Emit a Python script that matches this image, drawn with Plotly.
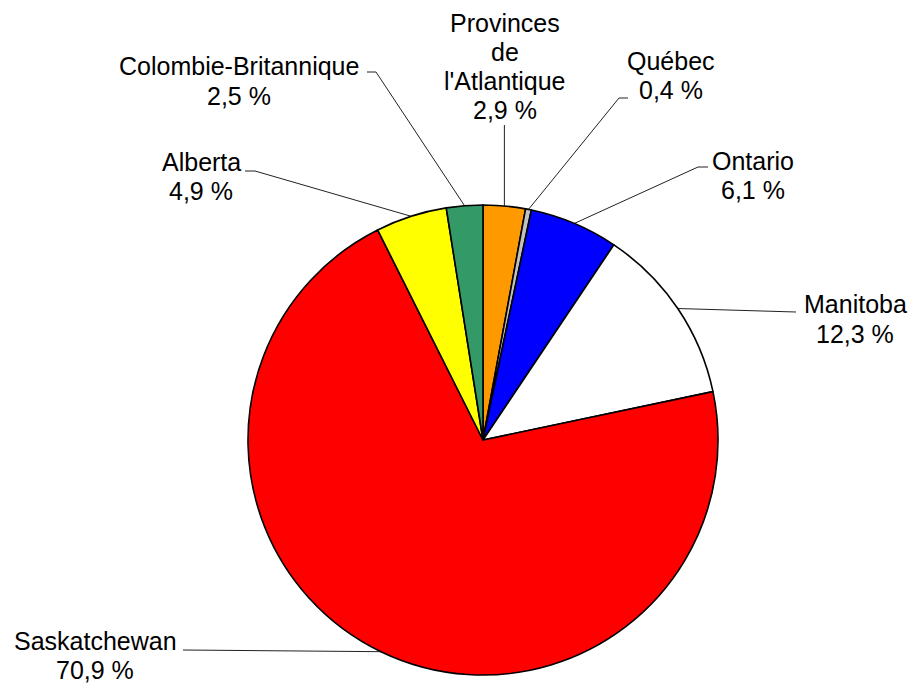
import math
import plotly.graph_objects as go

# ---- data ----
names = ["Provinces de l'Atlantique", "Québec", "Ontario", "Manitoba",
         "Saskatchewan", "Alberta", "Colombie-Britannique"]
name_lines = [["Provinces", "de", "l'Atlantique"], ["Québec"], ["Ontario"], ["Manitoba"],
              ["Saskatchewan"], ["Alberta"], ["Colombie-Britannique"]]
values = [2.9, 0.4, 6.1, 12.3, 70.9, 4.9, 2.5]
colors = ["#FF9900", "#C0C0C0", "#0000FF", "#FFFFFF", "#FF0000", "#FFFF00", "#339966"]

# ---- layout (pixel geometry) ----
W, H = 911, 683
CX, CY, R = 483, 440, 235
# label block: centre x, first-line y, line pitch
label_pos = [(505, 23, 29), (671, 61, 29), (753, 161, 28.5), (855, 304, 30),
             (95, 641, 28.5), (201, 162, 28.5), (239, 65.5, 30.5)]
# leader line start points (near label), list of points before the slice edge
leader_start = [[None], [(628, 98), (619, 98)], [(708, 167), (698, 167)], [(796, 312)],
                [(183, 650)], [(245, 171), (255, 171)], [(367, 72), (376, 72)]]

fig = go.Figure()
fig.add_trace(go.Pie(
    labels=names, values=values, sort=False, direction="clockwise", rotation=0,
    marker=dict(colors=colors, line=dict(color="black", width=1.6)),
    textinfo="none", hoverinfo="label+percent", showlegend=False,
    domain=dict(x=[(CX - R) / W, (CX + R) / W], y=[(H - CY - R) / H, (H - CY + R) / H]),
))

total = sum(values)
cum = 0.0
annotations = []
for i, v in enumerate(values):
    mid = (cum + v / 2) / total * 2 * math.pi
    cum += v
    ex, ey = CX + R * math.sin(mid), CY - R * math.cos(mid)
    pts = leader_start[i]
    if pts[0] is None:
        pts = [(ex, 125)]
    xs = [p[0] for p in pts] + [ex]
    ys = [p[1] for p in pts] + [ey]
    fig.add_trace(go.Scatter(x=xs, y=ys, mode="lines", line=dict(color="#222222", width=1),
                             hoverinfo="skip", showlegend=False))
    lx, ly, pitch = label_pos[i]
    lines = name_lines[i] + [f"{v:.1f}".replace(".", ",") + " %"]
    for k, t in enumerate(lines):
        annotations.append(dict(x=lx, y=ly + k * pitch, xref="x", yref="y", text=t,
                                showarrow=False, xanchor="center", yanchor="middle",
                                font=dict(family="Liberation Sans, Arial, sans-serif",
                                          size=25, color="black")))

fig.update_layout(
    width=W, height=H, margin=dict(l=0, r=0, t=0, b=0),
    paper_bgcolor="white", plot_bgcolor="rgba(0,0,0,0)",
    xaxis=dict(range=[0, W], visible=False, domain=[0, 1], fixedrange=True),
    yaxis=dict(range=[H, 0], visible=False, domain=[0, 1], fixedrange=True),
    annotations=annotations,
)
fig.write_html("out.html", config={"displayModeBar": False},
               post_script="document.body.style.margin='0';document.body.style.overflow='hidden';")
